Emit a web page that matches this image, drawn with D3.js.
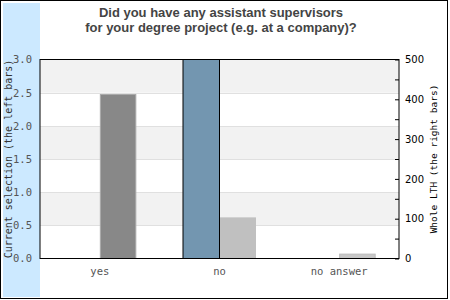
<!DOCTYPE html>
<html>
<head>
<meta charset="utf-8">
<script src="https://cdn.jsdelivr.net/npm/d3@7"></script>
<style>
body { margin: 0; background: #fff; }
</style>
</head>
<body>
<div id="chart"></div>
<script>
var categories = ["yes", "no", "no answer"];
var currentSel = [0, 3, 0];
var wholeLTH = [412, 102, 11];
var leftTicks = [0, 0.5, 1, 1.5, 2, 2.5, 3];
var rightTicks = [0, 100, 200, 300, 400, 500];
var titleLines = ["Did you have any assistant supervisors", "for your degree project (e.g. at a company)?"];

var W = 450, H = 300;
var pLeft = 40, pRight = 399, pTop = 59.5, pBottom = 258.5;

var svg = d3.select("#chart").append("svg").attr("width", W).attr("height", H);

// frame + blue band
svg.append("rect").attr("x", 0.5).attr("y", 0.5).attr("width", 447).attr("height", 298)
    .attr("fill", "#fff").attr("stroke", "#000");
svg.append("rect").attr("x", 3).attr("y", 3).attr("width", 37).attr("height", 294).attr("fill", "#cce9ff");

var x = d3.scaleBand().domain(categories).range([pLeft, pRight]);
var yL = d3.scaleLinear().domain([0, 3]).range([pBottom, pTop]);
var yR = d3.scaleLinear().domain([0, 500]).range([pBottom, pTop]);

// alternating bands
var bands = leftTicks.slice(0, -1);
svg.selectAll("rect.band").data(bands).enter().append("rect")
    .attr("class", "band")
    .attr("x", pLeft).attr("width", pRight - pLeft)
    .attr("y", function (d) { return yL(d + 0.5); })
    .attr("height", function (d) { return yL(d) - yL(d + 0.5); })
    .attr("fill", function (d, i) { return i % 2 == 1 ? "#f2f2f2" : "#fff"; });

svg.selectAll("line.grid").data(leftTicks.slice(1, -1)).enter().append("line")
    .attr("class", "grid")
    .attr("x1", pLeft).attr("x2", pRight)
    .attr("y1", function (d) { return Math.round(yL(d)) + 0.5; })
    .attr("y2", function (d) { return Math.round(yL(d)) + 0.5; })
    .attr("stroke", "#e0e0e0");

var bw = x.bandwidth() * 0.305;
function cx(d) { return x(d) + x.bandwidth() / 2; }

// whole LTH (right bars)
var wholeFill = ["#888888", "#c0c0c0", "#c8c8c8"];
var wholeStroke = ["#aaaaaa", "#c0c0c0", "#bbbbbb"];
svg.selectAll("rect.whole").data(categories).enter().append("rect")
    .attr("class", "whole")
    .attr("x", function (d) { return cx(d) + 0.5; })
    .attr("width", bw - 1)
    .attr("y", function (d, i) { return yR(wholeLTH[i]); })
    .attr("height", function (d, i) { return pBottom - yR(wholeLTH[i]); })
    .attr("fill", function (d, i) { return wholeFill[i]; })
    .attr("stroke", function (d, i) { return wholeStroke[i]; });

// current selection (left bars)
svg.selectAll("rect.cur").data(categories).enter().append("rect")
    .attr("class", "cur")
    .attr("x", function (d) { return cx(d) - bw; })
    .attr("width", bw)
    .attr("y", function (d, i) { return yL(currentSel[i]); })
    .attr("height", function (d, i) { return pBottom - yL(currentSel[i]); })
    .attr("fill", "#7396b0")
    .attr("stroke", "#000")
    .style("display", function (d, i) { return currentSel[i] > 0 ? null : "none"; });

// plot border
svg.append("rect").attr("x", pLeft).attr("y", pTop).attr("width", pRight - pLeft).attr("height", pBottom - pTop)
    .attr("fill", "none").attr("stroke", "#000");

// left axis
var axL = svg.append("g").attr("transform", "translate(" + pLeft + ",0)")
    .call(d3.axisLeft(yL).tickValues(leftTicks).tickFormat(d3.format(".1f")).tickSize(0).tickPadding(8));
axL.select(".domain").remove();
axL.selectAll("text").attr("fill", "#555").attr("font-family", "DejaVu Sans Mono").attr("font-size", 10.5);

// right axis
var axR = svg.append("g").attr("transform", "translate(" + pRight + ",0)")
    .call(d3.axisRight(yR).tickValues(d3.range(0, 501, 50)).tickSize(-4).tickPadding(6)
        .tickFormat(function (d) { return rightTicks.indexOf(d) >= 0 ? d : ""; }));
axR.select(".domain").remove();
axR.selectAll("line").attr("stroke", "#000");
axR.selectAll("text").attr("fill", "#000").attr("font-family", "DejaVu Sans").attr("font-size", 10);

// x axis
var axX = svg.append("g").attr("transform", "translate(0," + pBottom + ")")
    .call(d3.axisBottom(x).tickSize(0).tickPadding(9));
axX.select(".domain").remove();
axX.selectAll("text").attr("fill", "#555").attr("font-family", "DejaVu Sans Mono").attr("font-size", 10.5);

// axis titles
svg.append("text").attr("transform", "translate(12," + (pTop + pBottom) / 2 + ") rotate(-90)")
    .attr("text-anchor", "middle").attr("font-family", "DejaVu Sans Mono").attr("font-size", 10)
    .attr("fill", "#333").text("Current selection (the left bars)");
svg.append("text").attr("transform", "translate(437," + (pTop + pBottom) / 2 + ") rotate(-90)")
    .attr("text-anchor", "middle").attr("font-family", "DejaVu Sans Mono").attr("font-size", 9.5)
    .attr("fill", "#000").text("Whole LTH (the right bars)");

// title
svg.selectAll("text.title").data(titleLines).enter().append("text")
    .attr("class", "title")
    .attr("x", 221).attr("y", function (d, i) { return 17 + i * 15; })
    .attr("text-anchor", "middle")
    .attr("font-family", "Liberation Sans, Arial, sans-serif").attr("font-weight", "bold").attr("font-size", 13)
    .attr("fill", "#444").text(function (d) { return d; });
</script>
</body>
</html>
